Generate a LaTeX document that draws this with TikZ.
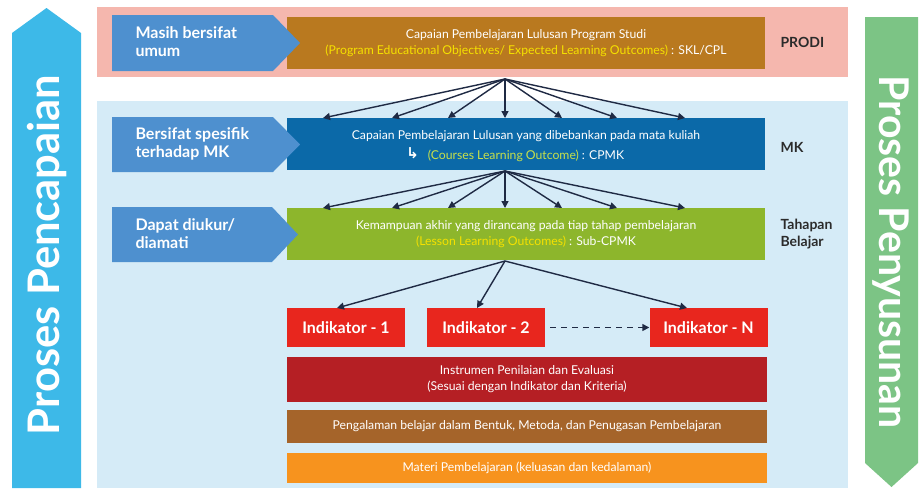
\documentclass[tikz,border=0pt]{standalone}
\usepackage{fontspec}
\setmainfont{Lato}
\newfontfamily\symfont{DejaVu Sans}
\usetikzlibrary{arrows.meta,calc}
\definecolor{pinkbg}{HTML}{F5B7AE}
\definecolor{bluebg}{HTML}{D5EBF7}
\definecolor{chev}{HTML}{4E90CF}
\definecolor{ochre}{HTML}{B9791F}
\definecolor{mkblue}{HTML}{0B69A8}
\definecolor{subgreen}{HTML}{8DB62C}
\definecolor{indred}{HTML}{E8261E}
\definecolor{darkred}{HTML}{B51F24}
\definecolor{brown2}{HTML}{A5642A}
\definecolor{orng}{HTML}{F7931E}
\definecolor{leftarr}{HTML}{3DB9E8}
\definecolor{rightarr}{HTML}{7CC485}
\definecolor{ytext}{HTML}{F5E100}
\definecolor{gtext}{HTML}{C8E04A}
\definecolor{navy}{HTML}{1F2A44}
\definecolor{lbl}{HTML}{2B2B2B}
\tikzset{
  box/.style={draw=none, inner sep=0pt, text=white, align=center, font=\fontsize{12.2}{16}\selectfont},
  indbox/.style={fill=indred, minimum width=118pt, minimum height=39pt, inner sep=0pt, text=white, font=\fontsize{16}{18}\bfseries\selectfont},
  chevtext/.style={text=white, align=left, anchor=west, font=\fontsize{16}{18}\bfseries\selectfont},
  sidelbl/.style={text=lbl, align=left, anchor=west, font=\fontsize{14}{17}\bfseries\selectfont},
  arr/.style={navy, line width=1.4pt, -{Triangle[length=7pt,width=7pt]}},
}
\begin{document}
\begin{tikzpicture}[x=1pt,y=-1pt]
\useasboundingbox (0,0) rectangle (923,488);
\fill[white] (0,0) rectangle (923,488);
% side arrows
\fill[leftarr] (12,488) -- (12,33) -- (46.5,8) -- (81,33) -- (81,488) -- cycle;
\node[rotate=90, text=white, font=\fontsize{43.5}{46}\bfseries\selectfont] (lt) at (47,255) {Proses Pencapaian};
\fill[rightarr] (865,17) -- (918,17) -- (918,463) -- (891.5,487) -- (865,463) -- cycle;
\node[rotate=-90, text=white, font=\fontsize{41}{44}\bfseries\selectfont] (rt) at (891,252) {Proses Penyusunan};
% backgrounds
\fill[pinkbg] (97,7) rectangle (848,77);
\fill[bluebg] (97,101) rectangle (848,488);
% main boxes
\node[box, fill=ochre, minimum width=478pt, minimum height=52pt] (cpl) at (526,43)
  {Capaian Pembelajaran Lulusan Program Studi\\{\color{ytext}(Program Educational Objectives/ Expected Learning Outcomes)} : SKL/CPL};
\node[box, fill=mkblue, minimum width=478pt, minimum height=52pt] (mk) at (526,144)
  {Capaian Pembelajaran Lulusan yang dibebankan pada mata kuliah\\\phantom{(Courses Learning Outcome) : CPMK}};
\node[text=white, font=\fontsize{12.2}{16}\selectfont, anchor=base] (mkl2) at (526,159) {{\color{gtext}(Courses Learning Outcome)} : CPMK};
\node[text=white, font=\symfont\fontsize{15}{16}\bfseries\selectfont, anchor=east] (icon) at ($(mkl2.west)+(-2,-2)$) {↳};
\node[box, fill=subgreen, minimum width=478pt, minimum height=52pt] (sub) at (526,234)
  {Kemampuan akhir yang dirancang pada tiap tahap pembelajaran\\{\color{ytext}(Lesson Learning Outcomes)} : Sub-CPMK};
% chevrons
\fill[chev] (112,15) -- (273,15) -- (300,43) -- (273,71) -- (112,71) -- cycle;
\node[chevtext] (c1) at (132,42) {Masih bersifat\\umum};
\fill[chev] (112,117) -- (273,117) -- (300,144.5) -- (273,172) -- (112,172) -- cycle;
\node[chevtext] (c2) at (132,143.5) {Bersifat spesifik\\terhadap MK};
\fill[chev] (112,207) -- (272,207) -- (298,234.5) -- (272,262) -- (112,262) -- cycle;
\node[chevtext] (c3) at (132,233.5) {Dapat diukur/\\diamati};
% side labels
\node[sidelbl] (prodi) at (777,42) {PRODI};
\node[sidelbl] (mklbl) at (777,147) {MK};
\node[sidelbl] (tb) at (777,234) {Tahapan\\Belajar};
% indicators
\node[indbox] (i1) at (346,327.5) {Indikator - 1};
\node[indbox] (i2) at (486,327.5) {Indikator - 2};
\node[indbox] (iN) at (708.5,327.5) {Indikator - N};
% lower boxes
\node[box, fill=darkred, minimum width=480pt, minimum height=45pt] (ins) at (527,379.5)
  {Instrumen Penilaian dan Evaluasi\\(Sesuai dengan Indikator dan Kriteria)};
\node[box, fill=brown2, minimum width=480pt, minimum height=33pt] (pb) at (527,426.5)
  {Pengalaman belajar dalam Bentuk, Metoda, dan Penugasan Pembelajaran};
\node[box, fill=orng, minimum width=480pt, minimum height=30pt] (mt) at (527,468)
  {Materi Pembelajaran (keluasan dan kedalaman)};
% connectors
\coordinate (s1) at (505,79);
\coordinate (s2) at (505,171);
\coordinate (s3) at (505,261);
\foreach \x [count=\k] in {323,392,448,505,562,617,685} {
  \coordinate (a\k) at (\x,118);
  \coordinate (b\k) at (\x,208);
  \draw[arr] (s1) -- (a\k);
  \draw[arr] (s2) -- (b\k);
}
\coordinate (e1) at (337,308);
\coordinate (e2) at (477,308);
\coordinate (e3) at (687,308);
\draw[arr] (s3) -- (e1);
\draw[arr] (s3) -- (e2);
\draw[arr] (s3) -- (e3);
\draw[arr, dashed, dash pattern=on 6pt off 5pt] (i2.east) ++(5,0) -- (iN.west);
\end{tikzpicture}
\end{document}
